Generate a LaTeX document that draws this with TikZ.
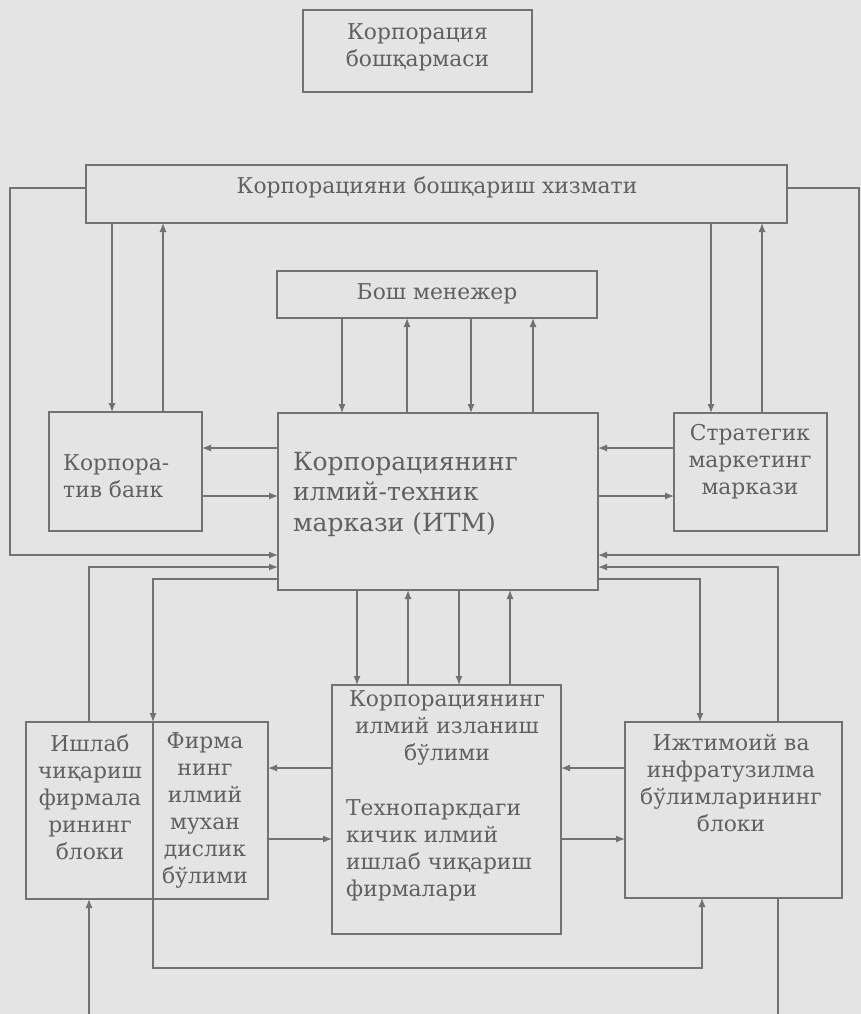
\documentclass[tikz,border=0pt]{standalone}
\usepackage{fontspec}
\setmainfont{DejaVu Serif}
\usetikzlibrary{arrows.meta,calc}
\definecolor{bg}{HTML}{E4E4E4}
\definecolor{ln}{HTML}{727272}
\definecolor{tx}{HTML}{606060}
\begin{document}
\begin{tikzpicture}[x=1pt,y=-1pt,
 box/.style={draw=ln, line width=1.2pt, inner sep=0pt, outer sep=0pt, rectangle},
 lbl/.style={text=tx, font=\fontsize{21.8}{27}\selectfont, inner sep=0pt, align=center},
 big/.style={text=tx, font=\fontsize{25}{30.5}\selectfont, inner sep=0pt, align=left},
 con/.style={draw=ln, line width=1.2pt},
 arr/.style={con, -{Latex[length=9pt,width=7pt]}},
]
\fill[bg] (0,0) rectangle (861,1014);
\useasboundingbox (0,0) rectangle (861,1014);

% boxes
\node[box, minimum width=229pt, minimum height=82pt] (top) at (417.5,51) {};
\node[box, minimum width=701pt, minimum height=58pt] (svc) at (436.5,194) {};
\node[box, minimum width=320pt, minimum height=47pt] (mgr) at (437,294.5) {};
\node[box, minimum width=153pt, minimum height=119pt] (bank) at (125.5,471.5) {};
\node[box, minimum width=320pt, minimum height=177pt] (itm) at (438,501.5) {};
\node[box, minimum width=153pt, minimum height=118pt] (mkt) at (750.5,472) {};
\node[box, minimum width=127pt, minimum height=177pt] (ish) at (89.5,810.5) {};
\node[box, minimum width=115pt, minimum height=177pt] (firm) at (210.5,810.5) {};
\node[box, minimum width=229pt, minimum height=249pt] (res) at (446.5,809.5) {};
\node[box, minimum width=217pt, minimum height=176pt] (soc) at (733.5,810) {};

% texts
\node[lbl] (ttop) at (417.5,47) {Корпорация\\бошқармаси};
\node[lbl] (tsvc) at (437,187) {Корпорацияни бошқариш хизмати};
\node[lbl] (tmgr) at (437,294) {Бош менежер};
\node[lbl, align=left, anchor=west] (tbank) at (63,476) {Корпора-\\тив банк};
\node[big, anchor=west] (titm) at (293,494) {Корпорациянинг\\илмий-техник\\маркази (ИТМ)};
\node[lbl] (tmkt) at (750,462) {Стратегик\\маркетинг\\маркази};
\node[lbl] (tish) at (90,797) {Ишлаб\\чиқариш\\фирмала\\рининг\\блоки};
\node[lbl] (tfirm) at (205,810) {Фирма\\нинг\\илмий\\мухан\\дислик\\бўлими};
\node[lbl] (tres1) at (447,728) {Корпорациянинг\\илмий изланиш\\бўлими};
\node[lbl, align=left, anchor=west] (tres2) at (346,850) {Технопаркдаги\\кичик илмий\\ишлаб чиқариш\\фирмалари};
\node[lbl] (tsoc) at (731,783) {Ижтимоий ва\\инфратузилма\\бўлимларининг\\блоки};

% outer loops
\draw[arr] (svc.west |- 0,188) -- (10,188) -- (10,555) -- (itm.west |- 0,555);
\draw[arr] (svc.east |- 0,188) -- (859,188) -- (859,555) -- (itm.east |- 0,555);

% service <-> bank / marketing
\draw[arr] (svc.south -| 112,0) -- (bank.north -| 112,0);
\draw[arr] (bank.north -| 163,0) -- (svc.south -| 163,0);
\draw[arr] (svc.south -| 711,0) -- (mkt.north -| 711,0);
\draw[arr] (mkt.north -| 762,0) -- (svc.south -| 762,0);

% manager <-> ITM
\draw[arr] (mgr.south -| 342,0) -- (itm.north -| 342,0);
\draw[arr] (itm.north -| 407,0) -- (mgr.south -| 407,0);
\draw[arr] (mgr.south -| 471,0) -- (itm.north -| 471,0);
\draw[arr] (itm.north -| 533,0) -- (mgr.south -| 533,0);

% ITM <-> bank / marketing
\draw[arr] (itm.west |- 0,448) -- (bank.east |- 0,448);
\draw[arr] (bank.east |- 0,496) -- (itm.west |- 0,496);
\draw[arr] (mkt.west |- 0,448) -- (itm.east |- 0,448);
\draw[arr] (itm.east |- 0,496) -- (mkt.west |- 0,496);

% ITM <-> research
\draw[arr] (itm.south -| 357,0) -- (res.north -| 357,0);
\draw[arr] (res.north -| 408,0) -- (itm.south -| 408,0);
\draw[arr] (itm.south -| 459,0) -- (res.north -| 459,0);
\draw[arr] (res.north -| 510,0) -- (itm.south -| 510,0);

% ITM <-> lower blocks
\draw[arr] (ish.north -| 89,0) -- (89,567) -- (itm.west |- 0,567);
\draw[arr] (itm.west |- 0,579) -- (153,579) -- (firm.north west);
\draw[arr] (soc.north -| 778,0) -- (778,567) -- (itm.east |- 0,567);
\draw[arr] (itm.east |- 0,579) -- (700,579) -- (soc.north -| 700,0);

% research <-> firm / social
\draw[arr] (res.west |- 0,768) -- (firm.east |- 0,768);
\draw[arr] (firm.east |- 0,839) -- (res.west |- 0,839);
\draw[arr] (soc.west |- 0,768) -- (res.east |- 0,768);
\draw[arr] (res.east |- 0,839) -- (soc.west |- 0,839);

% bottom connections
\draw[arr] (firm.south west) -- (153,968) -- (702,968) -- (soc.south -| 702,0);
\coordinate (bl) at (89,1014);
\coordinate (br) at (778,1014);
\draw[arr] (bl) -- (ish.south -| bl);
\draw[con] (soc.south -| br) -- (br);
\end{tikzpicture}
\end{document}
